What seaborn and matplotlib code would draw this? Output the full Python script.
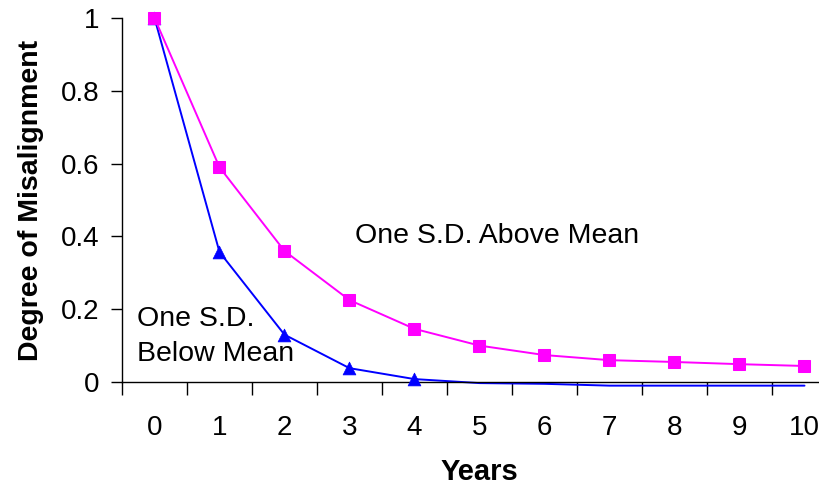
import matplotlib
matplotlib.use("Agg")
import matplotlib.pyplot as plt
import seaborn as sns
import pandas as pd
import numpy as np
from matplotlib.ticker import FixedLocator

years = [0, 1, 2, 3, 4, 5, 6, 7, 8, 9, 10]
above_mean = [1.0, 0.59, 0.36, 0.225, 0.146, 0.10, 0.074, 0.06, 0.055, 0.049, 0.044]
below_mean = [1.0, 0.357, 0.13, 0.038, 0.008, -0.003, -0.005, -0.01, -0.01, -0.01, -0.01]
below_marker_count = 5  # markers shown only for years 0-4

sns.set_theme(style="white")
plt.rcParams['font.family'] = ['Liberation Sans', 'DejaVu Sans']
plt.rcParams['text.color'] = 'black'
plt.rcParams['axes.labelcolor'] = 'black'
plt.rcParams['xtick.color'] = 'black'
plt.rcParams['ytick.color'] = 'black'

fig = plt.figure(figsize=(8.2, 4.88), dpi=100)
ax = fig.add_axes([122/820, 1-382/488, (837-122)/820, (382-18)/488])

df_b = pd.DataFrame({"Years": years, "val": below_mean})
df_a = pd.DataFrame({"Years": years, "val": above_mean})

sns.lineplot(data=df_b, x="Years", y="val", ax=ax, color="#0000FF", lw=1.4, clip_on=False)
bm = df_b.iloc[:below_marker_count]
sns.scatterplot(data=bm, x="Years", y="val", ax=ax, color="#0000FF", marker="^", s=85,
                edgecolor="#0000FF", linewidth=0.5, clip_on=False, zorder=3)
sns.lineplot(data=df_a, x="Years", y="val", ax=ax, color="#FF00FF", lw=1.4, marker="s",
             markersize=8, markeredgecolor="#FF00FF", clip_on=False, zorder=4)

ax.set_xlim(-0.5, 10.5)
ax.set_ylim(0, 1)
ax.set_yticks([0, 0.2, 0.4, 0.6, 0.8, 1.0])
ax.set_yticklabels(["0", "0.2", "0.4", "0.6", "0.8", "1"])
ax.set_xticks(years)
ax.set_xticklabels([str(y) for y in years])
ax.xaxis.set_minor_locator(FixedLocator(np.arange(-0.5, 11, 1)))
ax.tick_params(axis="x", which="major", length=0, pad=24, labelsize=20)
ax.tick_params(axis="x", which="minor", length=9, width=1, color="black", direction="out", bottom=True)
ax.tick_params(axis="y", which="major", length=8, width=1, color="black", direction="out", left=True, labelsize=20, pad=8)

for s in ["top", "right"]:
    ax.spines[s].set_visible(False)
for s in ["left", "bottom"]:
    ax.spines[s].set_color("black")
    ax.spines[s].set_linewidth(1)

ax.set_xlabel("Years", fontsize=21, fontweight="bold", labelpad=12)
ax.set_ylabel("Degree of Misalignment", fontsize=20.5, fontweight="bold", labelpad=12)

ax.text(3.08, 0.4, "One S.D. Above Mean", fontsize=20.5, ha="left", va="center")
ax.text(-0.27, 0.124, "One S.D.\nBelow Mean", fontsize=20.5, ha="left", va="center", linespacing=1.45)

fig.savefig("out.png", dpi=100)
